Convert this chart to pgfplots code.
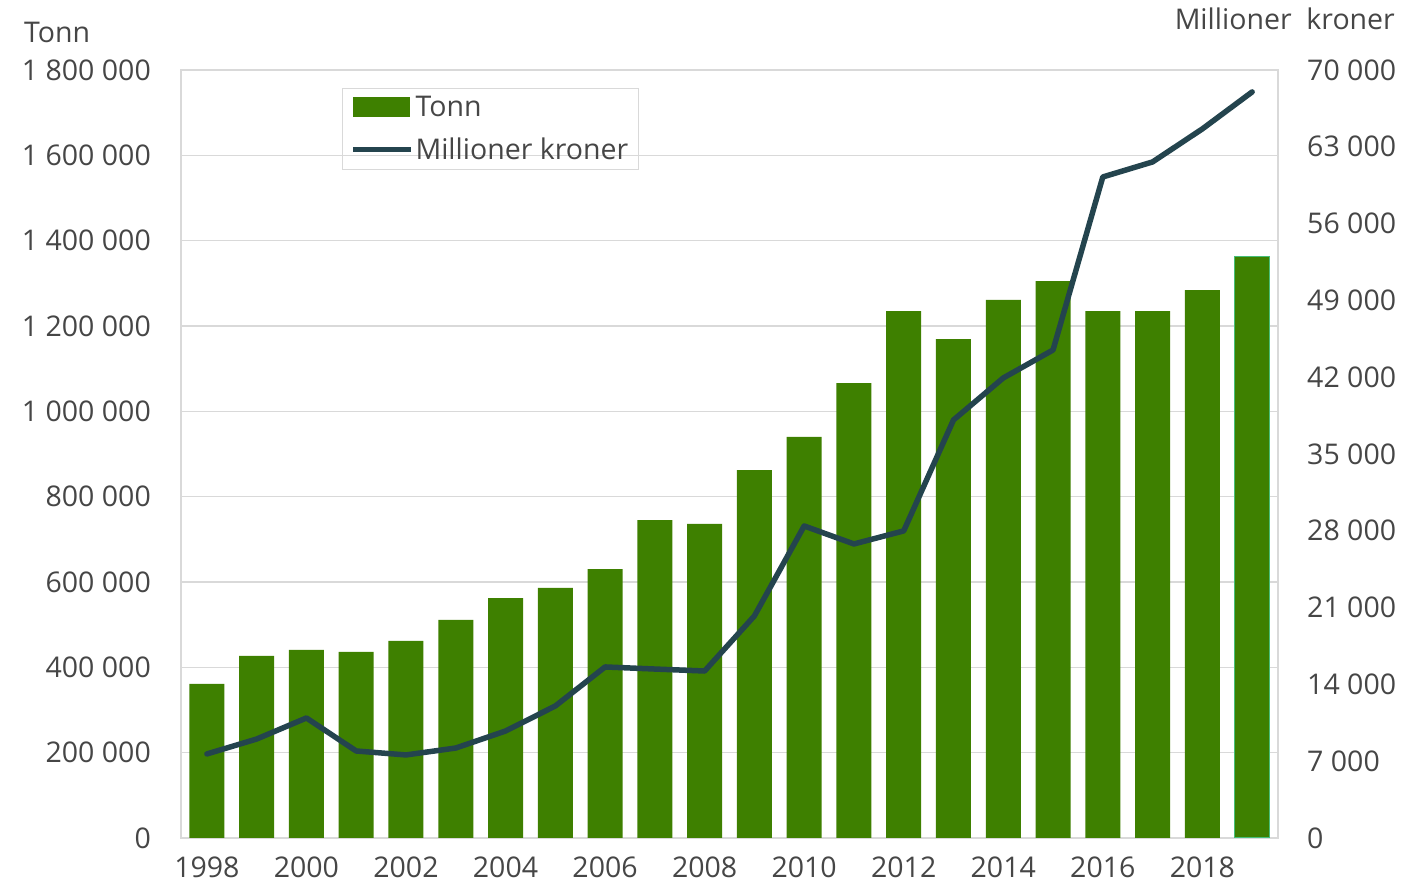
\documentclass[border=0pt]{standalone}
\usepackage{fontspec}
\setmainfont{Open Sans}
\usepackage{pgfplots}
\pgfplotsset{compat=1.18}
\definecolor{barg}{RGB}{62,128,0}
\definecolor{lineg}{RGB}{36,68,78}
\definecolor{gridg}{RGB}{217,217,217}
\definecolor{txt}{RGB}{70,70,70}
\newcommand{\bigfont}{\fontsize{28.5}{34}\selectfont}
\begin{document}
\begin{tikzpicture}[x=1pt,y=1pt]
\path[use as bounding box] (0,0) rectangle (1424,882);
\begin{axis}[
 at={(181pt,44pt)}, anchor=south west,
 scale only axis, width=1097pt, height=768pt,
 xmin=1997.48, xmax=2019.52,
 ymin=0, ymax=1800000,
 ytick={0,200000,400000,600000,800000,1000000,1200000,1400000,1600000,1800000},
 yticklabels={0,200 000,400 000,600 000,800 000,1 000 000,1 200 000,1 400 000,1 600 000,1 800 000},
 xtick={1998,2000,2002,2004,2006,2008,2010,2012,2014,2016,2018},
 xticklabels={1998,2000,2002,2004,2006,2008,2010,2012,2014,2016,2018},
 scaled ticks=false,
 axis line style={gridg, line width=1.5pt},
 ymajorgrids, grid style={gridg, line width=1.5pt},
 major tick length=0pt,
 ticklabel style={font=\bigfont, text=txt, inner sep=0pt},
 yticklabel style={anchor=east, xshift=-30pt},
 xticklabel style={anchor=north, yshift=-18.5pt},
 legend style={at={(0.1468,0.9766)}, anchor=north west, draw=gridg, fill=none,
   line width=1pt, font=\bigfont, text=txt, inner xsep=8pt, inner ysep=6pt,
   row sep=16pt},
 legend cell align=left,
]
\addplot[ybar, bar width=35pt, bar shift=0pt, fill=barg, draw=none,
  legend image code/.code={\fill[barg] (0pt,-10pt) rectangle (57pt,10pt);}]
 coordinates {
 (1998,361000) (1999,427000) (2000,441000) (2001,436000) (2002,462000)
 (2003,511000) (2004,562000) (2005,586000) (2006,630000) (2007,745000)
 (2008,736000) (2009,862000) (2010,940000) (2011,1066000) (2012,1235000)
 (2013,1169000) (2014,1261000) (2015,1305000) (2016,1235000) (2017,1235000)
 (2018,1284000)
 };
\addlegendentry{Tonn}
\addplot[ybar, bar width=35pt, bar shift=0pt, fill=barg, draw={rgb,255:red,70;green,190;blue,120}, line width=1pt, forget plot]
 coordinates {(2019,1364000)};
\addlegendimage{legend image code/.code={\draw[lineg, line width=5pt] (0pt,0pt) -- (58pt,0pt);}}
\addlegendentry{Millioner kroner}
\end{axis}
\begin{axis}[
 at={(181pt,44pt)}, anchor=south west,
 scale only axis, width=1097pt, height=768pt,
 xmin=1997.48, xmax=2019.52,
 ymin=0, ymax=70000,
 ytick={0,7000,14000,21000,28000,35000,42000,49000,56000,63000,70000},
 yticklabels={0,7 000,14 000,21 000,28 000,35 000,42 000,49 000,56 000,63 000,70 000},
 scaled ticks=false,
 axis x line=none,
 axis y line*=right,
 y axis line style={draw=none},
 major tick length=0pt,
 ticklabel style={font=\bigfont, text=txt, inner sep=0pt},
 yticklabel style={anchor=west, xshift=29pt},
]
\addplot[lineg, line width=5.5pt, line join=round, line cap=round] coordinates {
 (1998,7660) (1999,9020) (2000,10940) (2001,7930) (2002,7570)
 (2003,8200) (2004,9750) (2005,12030) (2006,15590) (2007,15400)
 (2008,15220) (2009,20240) (2010,28440) (2011,26800) (2012,27990)
 (2013,38100) (2014,41930) (2015,44480) (2016,60250) (2017,61620)
 (2018,64630) (2019,68000)
 };
\end{axis}
\node[anchor=base west, font=\bigfont, text=txt, inner sep=0pt] at (24,839) {Tonn};
\node[anchor=base east, font=\bigfont, text=txt, inner sep=0pt] at (1395,852) {Millioner~~kroner};
\end{tikzpicture}
\end{document}
